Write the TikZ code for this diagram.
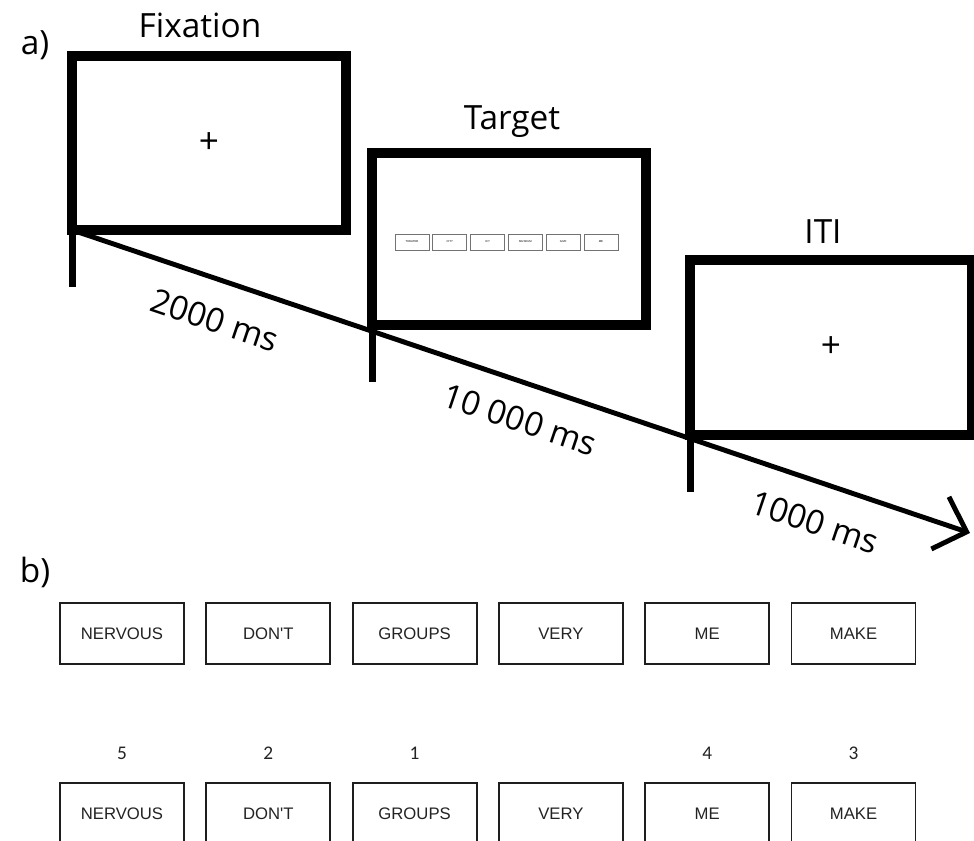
\documentclass[tikz,border=0pt]{standalone}
\usepackage{fontspec}
\setmainfont{Open Sans}
\newfontfamily\arialfont{Liberation Sans}
\newfontfamily\numfont{Carlito}
\usetikzlibrary{arrows.meta, positioning}
\definecolor{boxgray}{RGB}{30,30,30}
\definecolor{wordgray}{RGB}{35,35,35}
\tikzset{
  screen/.style={rectangle, draw=black, line width=5.2pt, outer sep=0pt,
    minimum width=5.48cm, minimum height=3.48cm, font=\fontsize{20}{24}\selectfont},
  title/.style={font=\fontsize{19}{23}\selectfont},
  panel/.style={font=\fontsize{19}{23}\selectfont},
  tick/.style={line width=4pt},
  timeline/.style={line width=2.8pt, -{Straight Barb[length=0.56cm, width=1.1cm]}},
  duration/.style={font=\fontsize{19}{23}\selectfont, rotate=-18.6},
  miniword/.style={rectangle, draw=black!55, line width=0.45pt, inner sep=0pt,
    minimum width=0.68cm, minimum height=0.32cm, font=\arialfont\fontsize{1.6}{2}\selectfont},
  word/.style={rectangle, draw=boxgray, line width=1.1pt,
    minimum width=2.48cm, minimum height=1.22cm, text=wordgray,
    font=\arialfont\fontsize{9.5}{11}\selectfont},
  rank/.style={font=\numfont\fontsize{11}{13}\selectfont, text=wordgray}
}
\begin{document}
\begin{tikzpicture}[x=0.02cm, y=-0.02cm]
  \useasboundingbox (0,0) rectangle (974,841);

  % a) trial sequence
  \node[panel] (pa) at (35,45) {a)};
  \node[screen] (fix) at (209,143) {+};
  \node[screen, minimum height=3.44cm] (tgt) at (509,239) {};
  \node[screen, minimum width=5.64cm, minimum height=3.5cm] (iti) at (831,347.5) {+};
  \node[title] (fixt) at (200,25) {Fixation};
  \node[title] (tgtt) at (512,122) {Target};
  \node[title] (itit) at (823,232) {ITI};

  \foreach \w [count=\i] in {THEATER,CITY,ICY,MUSEUM,GIVE,ME}
    \node[miniword] (m\i) at ({374.2+37.8*\i},242) {\w};

  \coordinate (tend) at (970,533);
  \draw[timeline] (fix.south west) -- (tend);
  \foreach \s in {fix,tgt,iti}
    \draw[tick] (\s.south west) -- ++(0,57);

  \node[duration] (d1) at (215,320) {2000 ms};
  \node[duration] (d2) at (520,420) {10 000 ms};
  \node[duration] (d3) at (815,522) {1000 ms};

  % b) sentence task
  \node[panel] (pb) at (35,572) {b)};
  \foreach \w [count=\i] in {NERVOUS,DON'T,GROUPS,VERY,ME,MAKE} {
    \node[word] (u\i) at ({122+146.3*(\i-1)},633.5) {\w};
    \node[word] (l\i) at ({122+146.3*(\i-1)},813.5) {\w};
  }
  \foreach \i/\r in {1/5,2/2,3/1,5/4,6/3}
    \node[rank, above=0.32cm of l\i] (r\i) {\r};
\end{tikzpicture}
\end{document}
